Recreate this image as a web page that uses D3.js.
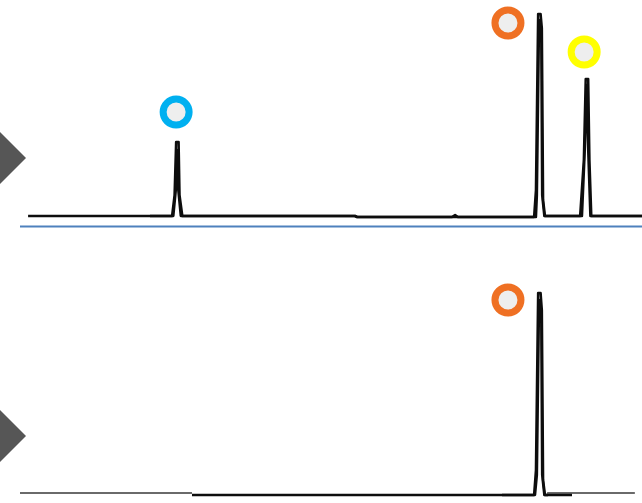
<!DOCTYPE html>
<html>
<head>
<meta charset="utf-8">
<script src="https://cdn.jsdelivr.net/npm/d3@7/dist/d3.min.js"></script>
<style>
  html, body { margin: 0; padding: 0; background: #fff; }
  svg { display: block; }
</style>
</head>
<body>
<svg id="chart" width="642" height="503"></svg>
<script>
// Retention time (min) and relative signal (%) for each overlaid run.
// Upper chromatogram: sample, two injections.
const upperRunATime = [0.26, 4.89, 4.97, 5.02, 5.10, 5.13, 5.22, 10.77, 10.84, 13.89, 13.99, 14.08, 16.53, 16.59, 16.66, 16.74, 16.78, 16.82, 16.88, 18.01, 18.13, 18.19, 18.27, 18.31, 18.37, 20.0];
const upperRunAValue = [0, 0, 10.4, 36.8, 36.8, 10.4, 0, 0, -0.5, -0.5, 0.5, -0.5, -0.5, 12.9, 100.5, 100.5, 93.5, 8.0, 0, 0, 27.9, 68.2, 68.2, 27.9, 0, 0];
const upperRunBTime = [4.18, 4.93, 5.01, 5.05, 5.09, 5.17, 10.77, 10.84, 16.59, 16.62, 16.69, 16.76, 16.79, 16.86, 18.07, 18.16, 18.22, 18.27, 18.34, 20.0];
const upperRunBValue = [0, 0, 12.9, 32.8, 12.9, 0, 0, -0.5, -0.5, 10.4, 97.5, 92.5, 10.4, 0, 0, 32.8, 65.2, 32.8, 0, 0];

// Lower chromatogram: reference standard, two injections plus a blank (grey).
const lowerRunATime = [5.53, 16.53, 16.59, 16.66, 16.74, 16.78, 16.82, 16.88, 17.75];
const lowerRunAValue = [0, 0, 12.4, 100.5, 100.5, 92, 7.5, 0, 0];
const lowerRunBTime = [15.50, 16.56, 16.62, 16.69, 16.76, 16.79, 16.86, 16.98];
const lowerRunBValue = [0, 0, 10, 97, 91, 10, 0, 0];
const lowerBlankTime = [0, 5.53, 5.54, 16.94, 16.95, 19.77];
const lowerBlankValue = [1, 1, NaN, NaN, 1, 1];

// Peak markers: colour, marker position (time, signal) and panel.
const markerColor = ["#00b0f0", "#ef7023", "#ffff00", "#ef7023"];
const markerTime = [5.02, 15.69, 18.14, 15.69];
const markerValue = [51.7, 96.0, 81.6, 97.0];
const markerPanel = ["upper", "upper", "upper", "lower"];

const svg = d3.select("#chart");

const x = d3.scaleLinear().domain([0, 20]).range([20, 642]);
const yUpper = d3.scaleLinear().domain([0, 100]).range([216, 15]);
const yLower = d3.scaleLinear().domain([0, 100]).range([495, 294]);
const yScale = { upper: yUpper, lower: yLower };

function zip(t, v) { return t.map((d, i) => ({ t: d, v: v[i] })); }

function trace(data, y, color, width) {
  const line = d3.line()
    .defined(d => !isNaN(d.v))
    .x(d => x(d.t))
    .y(d => y(d.v));
  svg.append("path")
    .datum(data)
    .attr("d", line)
    .attr("fill", "none")
    .attr("stroke", color)
    .attr("stroke-width", width)
    .attr("stroke-linejoin", "round");
}

// Panel indicators on the left edge
[158, 436].forEach(cy => {
  svg.append("path")
    .attr("d", `M-26,${cy} L0,${cy - 26} L26,${cy} L0,${cy + 26} Z`)
    .attr("fill", "#565656");
});

// Upper panel traces
trace(zip(upperRunATime, upperRunAValue), yUpper, "#0d0d0d", 2.5);
trace(zip(upperRunBTime, upperRunBValue), yUpper, "#0d0d0d", 2.5);

// Divider between panels
svg.append("line")
  .attr("x1", 20).attr("x2", 642)
  .attr("y1", 226.5).attr("y2", 226.5)
  .attr("stroke", "#4f81bd")
  .attr("stroke-width", 2.2);

// Lower panel traces
trace(zip(lowerBlankTime, lowerBlankValue), yLower, "#6a6a6a", 2);
trace(zip(lowerRunATime, lowerRunAValue), yLower, "#0d0d0d", 2.5);
trace(zip(lowerRunBTime, lowerRunBValue), yLower, "#0d0d0d", 2.5);

// Peak markers
svg.selectAll("circle.marker")
  .data(markerTime.map((t, i) => ({ t, v: markerValue[i], c: markerColor[i], p: markerPanel[i] })))
  .join("circle")
  .attr("class", "marker")
  .attr("cx", d => x(d.t))
  .attr("cy", d => yScale[d.p](d.v))
  .attr("r", 13)
  .attr("fill", "#eeeeee")
  .attr("stroke", d => d.c)
  .attr("stroke-width", 7);
</script>
</body>
</html>
